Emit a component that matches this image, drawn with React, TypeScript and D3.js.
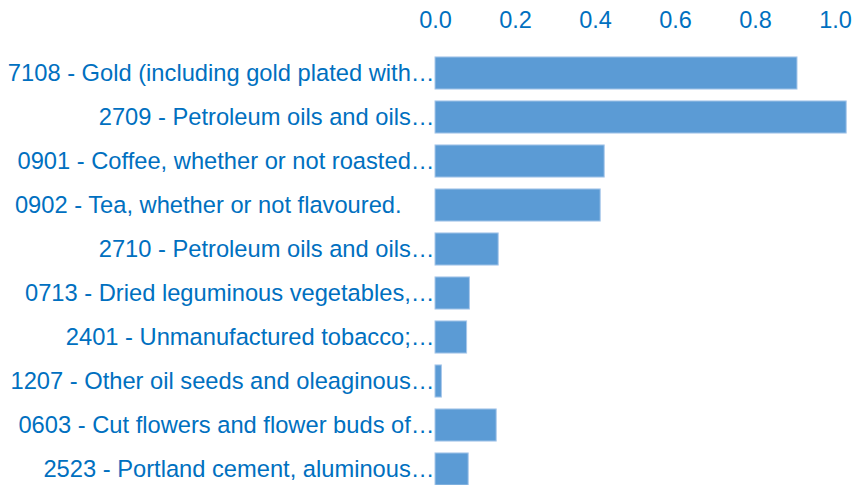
import { useEffect, useRef } from 'react';
import * as d3 from 'd3';

// product labels, top to bottom (the tea label keeps its trailing padding)
const categories = [
  '7108 - Gold (including gold plated with…',
  '2709 - Petroleum oils and oils…',
  '0901 - Coffee, whether or not roasted…',
  '0902 - Tea, whether or not flavoured.\u00a0\u00a0\u00a0\u00a0\u00a0',
  '2710 - Petroleum oils and oils…',
  '0713 - Dried leguminous vegetables,…',
  '2401 - Unmanufactured tobacco;…',
  '1207 - Other oil seeds and oleaginous…',
  '0603 - Cut flowers and flower buds of…',
  '2523 - Portland cement, aluminous…',
];

const values = [0.905, 1.028, 0.423, 0.413, 0.158, 0.086, 0.079, 0.016, 0.153, 0.083];

const tickValues = [0, 0.2, 0.4, 0.6, 0.8, 1.0];

const App = () => {
  const svgRef = useRef(null);

  useEffect(() => {
    const width = 855;
    const height = 485;
    const textColor = '#0070c0';
    const font = '"Liberation Sans", Arial, sans-serif';

    const svg = d3.select(svgRef.current);
    svg.selectAll('*').remove();
    svg.attr('width', width).attr('height', height);

    const rows = categories.map((c, i) => ({ label: c, value: values[i] }));

    const x = d3.scaleLinear().domain([0, 1]).range([435, 835]);
    const y = d3.scaleBand()
      .domain(categories)
      .range([51, 491])
      .paddingInner(0.27)
      .paddingOuter(0.135);

    // axis on top, labels only
    const axis = svg.append('g')
      .attr('transform', 'translate(0,28)')
      .call(d3.axisTop(x).tickValues(tickValues).tickFormat(d3.format('.1f')).tickSize(0).tickPadding(0));
    axis.select('.domain').remove();
    axis.selectAll('text')
      .attr('fill', textColor)
      .style('font-family', font)
      .style('font-size', '23.5px');

    // bars
    svg.append('g')
      .selectAll('rect')
      .data(rows)
      .enter()
      .append('rect')
      .attr('x', x(0))
      .attr('y', d => y(d.label))
      .attr('width', d => x(d.value) - x(0))
      .attr('height', y.bandwidth())
      .attr('fill', '#5b9bd5')
      .attr('stroke', '#a8c8ea')
      .attr('stroke-width', 1);

    // category labels
    svg.append('g')
      .selectAll('text')
      .data(rows)
      .enter()
      .append('text')
      .attr('x', x(0) - 0.5)
      .attr('y', d => y(d.label) + y.bandwidth() / 2)
      .attr('dy', '0.35em')
      .attr('text-anchor', 'end')
      .attr('fill', textColor)
      .style('font-family', font)
      .style('font-size', '23.7px')
      .style('white-space', 'pre')
      .text(d => d.label);
  }, []);

  return (
    <svg ref={svgRef} style={{ position: 'absolute', left: 0, top: 0, display: 'block' }}></svg>
  );
};

export default App;
